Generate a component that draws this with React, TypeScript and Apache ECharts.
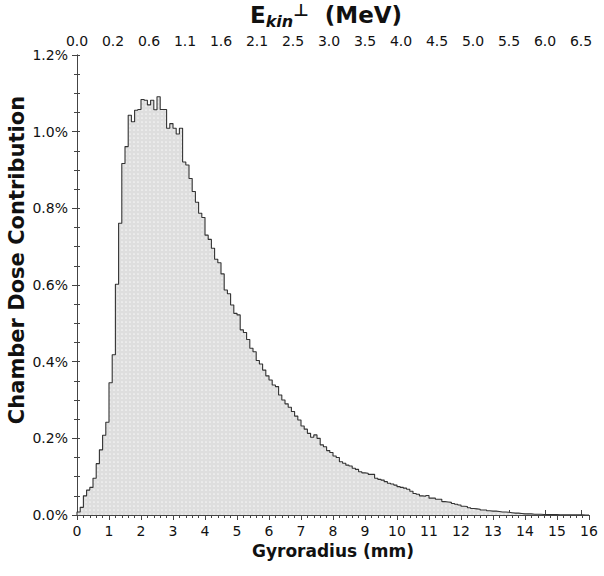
import React, { useEffect, useRef } from "react";
import * as echarts from "echarts";

// Histogram: chamber dose contribution (%) per 0.1 mm gyroradius bin, bins from 0 to 16 mm
const BIN_WIDTH = 0.1;
const doseValues: number[] = [
  0.008, 0.020, 0.050, 0.065, 0.072, 0.096, 0.134, 0.170, 0.208, 0.242,
  0.345, 0.418, 0.602, 0.761, 0.917, 0.961, 1.043, 1.026, 1.056, 1.058,
  1.084, 1.082, 1.070, 1.082, 1.057, 1.091, 1.058, 1.058, 1.009, 1.021,
  1.009, 0.994, 1.009, 0.921, 0.913, 0.878, 0.844, 0.816, 0.787, 0.776,
  0.730, 0.719, 0.696, 0.667, 0.658, 0.629, 0.587, 0.577, 0.548, 0.526,
  0.522, 0.483, 0.476, 0.458, 0.435, 0.426, 0.403, 0.394, 0.378, 0.363,
  0.352, 0.339, 0.335, 0.313, 0.300, 0.290, 0.281, 0.270, 0.258, 0.248,
  0.232, 0.224, 0.213, 0.203, 0.209, 0.200, 0.183, 0.178, 0.168, 0.163,
  0.154, 0.150, 0.139, 0.135, 0.130, 0.128, 0.122, 0.119, 0.113, 0.110,
  0.109, 0.106, 0.106, 0.096, 0.093, 0.091, 0.087, 0.083, 0.081, 0.078,
  0.074, 0.072, 0.070, 0.067, 0.062, 0.056, 0.054, 0.050, 0.049, 0.051,
  0.044, 0.044, 0.041, 0.041, 0.035, 0.034, 0.033, 0.030, 0.028, 0.026,
  0.023, 0.022, 0.019, 0.017, 0.016, 0.015, 0.013, 0.013, 0.011, 0.010,
  0.010, 0.009, 0.008, 0.008, 0.007, 0.006, 0.005, 0.005, 0.004, 0.003,
  0.003, 0.003, 0.002, 0.002, 0.002, 0.0015, 0.001, 0.001, 0.001, 0.001,
  0.0008, 0.0006, 0.0005, 0.0004, 0.0003, 0.0003, 0.0002, 0.0002, 0.0001, 0.0001,
];

// Top axis: perpendicular kinetic energy labels (MeV), evenly spaced ticks
const energyTickLabels: string[] = [
  "0.0", "0.2", "0.6", "1.1", "1.6", "2.1", "2.5", "3.0",
  "3.5", "4.0", "4.5", "5.0", "5.5", "6.0", "6.5",
];
const ENERGY_TICK_STEP_MM = 1.125;

const X_MIN = 0;
const X_MAX = 16;
const Y_MIN = 0;
const Y_MAX = 1.2;

const FONT = "DejaVu Sans";
const TEXT = "#111";
const AXIS = "#444";

const patternSvg =
  "<svg xmlns='http://www.w3.org/2000/svg' width='4' height='4'>" +
  "<rect width='4' height='4' fill='#dedede'/>" +
  "<circle cx='2' cy='2' r='0.85' fill='#f6f6f6'/></svg>";
const patternUrl = "data:image/svg+xml;charset=utf-8," + encodeURIComponent(patternSvg);

export default function App() {
  const ref = useRef<HTMLDivElement>(null);

  useEffect(() => {
    if (!ref.current) return;
    const chart = echarts.init(ref.current, undefined, { renderer: "svg" });

    const stepData: [number, number][] = [[X_MIN, 0]];
    doseValues.forEach((v, i) => stepData.push([+(i * BIN_WIDTH).toFixed(2), v]));
    stepData.push([X_MAX, doseValues[doseValues.length - 1]]);

    const axisLine = { show: true, lineStyle: { color: AXIS, width: 1 } };
    const labelStyle = { color: TEXT, fontFamily: FONT, fontSize: 14 };

    chart.setOption({
      animation: false,
      backgroundColor: "#ffffff",
      grid: { left: 77, right: 15, top: 55, bottom: 61, containLabel: false },
      graphic: [
        {
          type: "text",
          x: 17,
          y: 260,
          rotation: Math.PI / 2,
          style: {
            text: "Chamber Dose Contribution",
            fontFamily: FONT,
            fontSize: 21,
            fontWeight: "bold",
            fill: TEXT,
            align: "center",
            verticalAlign: "middle",
          },
        },
        {
          type: "text",
          x: 250,
          y: 15,
          style: {
            text: "{e|E}{s|kin}{p|⊥}{e|  (MeV)}",
            align: "left",
            verticalAlign: "middle",
            rich: {
              e: { fontFamily: FONT, fontSize: 23, fontWeight: "bold", fill: TEXT, lineHeight: 28 },
              s: {
                fontFamily: FONT, fontSize: 16, fontWeight: "bold", fontStyle: "italic",
                fill: TEXT, lineHeight: 16, verticalAlign: "bottom",
              },
              p: { fontFamily: FONT, fontSize: 17, fontWeight: "bold", fill: TEXT, lineHeight: 17, verticalAlign: "top" },
            },
          },
        },
      ],
      xAxis: [
        {
          type: "value",
          position: "bottom",
          min: X_MIN,
          max: X_MAX,
          interval: 1,
          name: "Gyroradius (mm)",
          nameLocation: "middle",
          nameGap: 24,
          nameTextStyle: { fontFamily: FONT, fontSize: 17, fontWeight: "bold", color: TEXT },
          axisLine,
          axisTick: { show: true, inside: false, length: 5, lineStyle: { color: AXIS } },
          minorTick: { show: true, splitNumber: 5, length: 3, lineStyle: { color: AXIS } },
          axisLabel: { ...labelStyle, margin: 9 },
          splitLine: { show: false },
          minorSplitLine: { show: false },
        },
        {
          type: "value",
          position: "top",
          min: X_MIN,
          max: X_MAX,
          interval: ENERGY_TICK_STEP_MM,
          axisLine,
          axisTick: { show: true, inside: false, length: 5, lineStyle: { color: AXIS } },
          axisLabel: {
            ...labelStyle,
            margin: 7,
            showMaxLabel: false,
            formatter: (v: number) => {
              const k = Math.round(v / ENERGY_TICK_STEP_MM);
              if (Math.abs(k * ENERGY_TICK_STEP_MM - v) > 1e-6) return "";
              return energyTickLabels[k] ?? "";
            },
          },
          splitLine: { show: false },
        },
      ],
      yAxis: [
        {
          type: "value",
          position: "left",
          min: Y_MIN,
          max: Y_MAX,
          interval: 0.2,
          axisLine,
          axisTick: { show: true, inside: false, length: 5, lineStyle: { color: AXIS } },
          minorTick: { show: true, splitNumber: 4, length: 3, lineStyle: { color: AXIS } },
          axisLabel: { ...labelStyle, margin: 9, formatter: (v: number) => v.toFixed(1) + "%" },
          splitLine: { show: false },
          minorSplitLine: { show: false },
        },
        {
          type: "value",
          position: "right",
          min: Y_MIN,
          max: Y_MAX,
          interval: 0.2,
          axisLine,
          axisTick: { show: true, inside: false, length: 3, lineStyle: { color: AXIS } },
          minorTick: { show: true, splitNumber: 4, length: 3, lineStyle: { color: AXIS } },
          axisLabel: { show: false },
          splitLine: { show: false },
          minorSplitLine: { show: false },
        },
      ],
      series: [
        {
          type: "line",
          xAxisIndex: 0,
          yAxisIndex: 0,
          step: "end",
          symbol: "none",
          data: stepData,
          lineStyle: { color: "#333", width: 1.1 },
          areaStyle: { color: { image: patternUrl, repeat: "repeat" }, opacity: 1 },
          silent: true,
        },
      ],
    });

    return () => chart.dispose();
  }, []);

  return (
    <div
      ref={ref}
      style={{ position: "fixed", left: 0, top: 0, width: 604, height: 576, background: "#fff" }}
    />
  );
}
